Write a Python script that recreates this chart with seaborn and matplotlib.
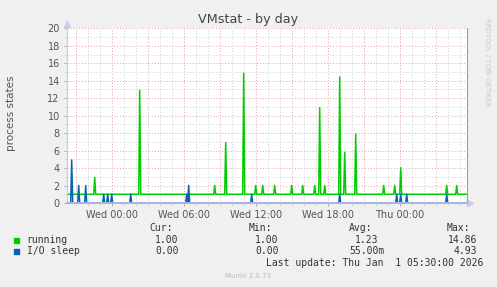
import matplotlib
matplotlib.use("Agg")
import matplotlib.pyplot as plt
import matplotlib.dates as mdates
from matplotlib.ticker import MultipleLocator
import numpy as np
import pandas as pd
import seaborn as sns

# ---------------- data ----------------
series_names = ["running", "I/O sleep"]
series_colors = ["#00CC00", "#0066B3"]

period_start = "2025-12-30 20:15"
period_end = "2026-01-01 05:35"

running_base = 1.0
running_spike_times = [
    "2025-12-30 22:35", "2025-12-31 02:20", "2025-12-31 08:35", "2025-12-31 09:30",
    "2025-12-31 11:00", "2025-12-31 12:00", "2025-12-31 12:35", "2025-12-31 13:35",
    "2025-12-31 15:00", "2025-12-31 15:55", "2025-12-31 16:55", "2025-12-31 17:20",
    "2025-12-31 17:45", "2025-12-31 19:00", "2025-12-31 19:25", "2025-12-31 20:20",
    "2025-12-31 22:40", "2025-12-31 23:35", "2026-01-01 00:05", "2026-01-01 03:55",
    "2026-01-01 04:45",
]
running_spike_values = [
    2.93, 12.9, 2.0, 6.93,
    14.86, 2.0, 2.0, 2.0,
    2.0, 2.0, 2.0, 10.9,
    2.0, 14.44, 5.8, 7.89,
    2.0, 2.0, 4.04, 2.0,
    2.0,
]

iosleep_base = 0.0
iosleep_spike_times = [
    "2025-12-30 20:40", "2025-12-30 21:15", "2025-12-30 21:50", "2025-12-30 23:20",
    "2025-12-30 23:40", "2025-12-31 00:00", "2025-12-31 01:35", "2025-12-31 06:15",
    "2025-12-31 06:25", "2025-12-31 11:40", "2025-12-31 19:00", "2025-12-31 23:45",
    "2026-01-01 00:05", "2026-01-01 00:35", "2026-01-01 03:55",
]
iosleep_spike_values = [
    4.93, 2.0, 2.0, 1.0,
    1.0, 1.0, 1.0, 1.0,
    2.0, 1.0, 1.0, 1.0,
    1.0, 1.0, 1.0,
]

y_ticks = [0, 2, 4, 6, 8, 10, 12, 14, 16, 18, 20]

legend_cur = ["1.00", "0.00"]
legend_min = ["1.00", "0.00"]
legend_avg = ["1.23", "55.00m"]
legend_max = ["14.86", "4.93"]

# ---------------- build table ----------------
times = pd.date_range(period_start, period_end, freq="5min")
running = pd.Series(running_base, index=times)
running.loc[pd.to_datetime(running_spike_times)] = running_spike_values
iosleep = pd.Series(iosleep_base, index=times)
iosleep.loc[pd.to_datetime(iosleep_spike_times)] = iosleep_spike_values

df = pd.concat([
    pd.DataFrame({"time": times, "value": running.values, "series": series_names[0]}),
    pd.DataFrame({"time": times, "value": iosleep.values, "series": series_names[1]}),
], ignore_index=True)

# ---------------- figure ----------------
W, H = 497, 287
BG = "#F0F0F0"
TXT = "#555555"
fig = plt.figure(figsize=(W / 100, H / 100), dpi=100, facecolor=BG)

L, R, T, B = 66.7, 466.7, 28.3, 203.0
ax = fig.add_axes([L / W, 1 - B / H, (R - L) / W, (B - T) / H])
ax.set_facecolor("white")

sns.lineplot(data=df, x="time", y="value", hue="series", hue_order=series_names,
             palette=series_colors, legend=False, ax=ax, linewidth=1.1,
             estimator=None, sort=True)

ax.set_xlim(pd.Timestamp(period_start), pd.Timestamp(period_end))
ax.set_ylim(0, 20)
ax.set_yticks(y_ticks)
ax.yaxis.set_minor_locator(MultipleLocator(1))
ax.xaxis.set_major_locator(mdates.HourLocator(byhour=[0, 6, 12, 18]))
ax.xaxis.set_major_formatter(mdates.DateFormatter("%a %H:%M"))
ax.xaxis.set_minor_locator(mdates.HourLocator())
ax.set_xlabel("")
ax.set_ylabel("")

# grid: red dotted every 3h / 2 units, gray dotted every 1h / 1 unit
for h in pd.date_range("2025-12-30 21:00", "2026-01-01 05:00", freq="3h"):
    ax.axvline(h, color="#e3a3a3", lw=0.7, ls=(0, (1, 2)), zorder=0.5)
for h in pd.date_range("2025-12-30 21:00", "2026-01-01 05:00", freq="1h"):
    if h.hour % 3:
        ax.axvline(h, color="#cfcfcf", lw=0.7, ls=(0, (1, 2)), zorder=0.4)
for v in range(1, 21):
    col = "#e3a3a3" if v % 2 == 0 else "#cfcfcf"
    ax.axhline(v, color=col, lw=0.7, ls=(0, (1, 2)), zorder=0.4 if v % 2 else 0.5)

ax.spines["top"].set_visible(False)
ax.spines["right"].set_color("#a0a0a0")
ax.spines["right"].set_linewidth(0.8)
ax.spines["left"].set_color("#c8cbee")
ax.spines["bottom"].set_color("#a9b4e0")
ax.spines["left"].set_linewidth(0.9)
ax.spines["bottom"].set_linewidth(1.4)
ax.spines["bottom"].set_zorder(5)

ax.tick_params(axis="both", which="major", labelsize=7, colors="#a0a0a0",
               labelcolor=TXT, length=2, width=0.6, direction="out")
ax.tick_params(axis="y", which="major", pad=3)
ax.tick_params(axis="x", which="major", pad=3)
ax.tick_params(axis="both", which="minor", length=1.5, width=0.5, colors="#c0c0c0")

# axis arrows
ax.plot([0], [1.025], marker="^", ms=4, color="#c8cbee", transform=ax.transAxes, clip_on=False)
ax.plot([1.009], [0], marker=">", ms=4, color="#c8cbee", transform=ax.transAxes, clip_on=False)

def ftext(x, y, s, **kw):
    fig.text(x / W, 1 - y / H, s, **kw)

ftext(248.5, 19, "VMstat - by day", ha="center", va="center", fontsize=9.2, color="#444444")
ftext(11, 113, "process states", ha="center", va="center", rotation=90, fontsize=7.5, color=TXT)
ftext(487, 62, "RRDTOOL / TOBI OETIKER", ha="center", va="center", rotation=270,
      fontsize=5, color="#c8c8c8")

mono = dict(family="DejaVu Sans Mono", fontsize=7, color="#333333", va="center")
ftext(149, 228.3, "Cur:", ha="left", **mono)
ftext(248.5, 228.3, "Min:", ha="left", **mono)
ftext(348.5, 228.3, "Avg:", ha="left", **mono)
ftext(447, 228.3, "Max:", ha="left", **mono)

rows_y = [240, 251]
for i, name in enumerate(series_names):
    y = rows_y[i]
    fig.patches.append(plt.Rectangle((14 / W, 1 - (y + 2.5) / H), 5 / W, 5 / H,
                                     transform=fig.transFigure, color=series_colors[i]))
    ftext(26.7, y, name, ha="left", **mono)
    ftext(178.5, y, legend_cur[i], ha="right", **mono)
    ftext(278.5, y, legend_min[i], ha="right", **mono)
    ftext(384.5 if legend_avg[i].endswith("m") else 378.3, y, legend_avg[i], ha="right", **mono)
    ftext(477, y, legend_max[i], ha="right", **mono)

ftext(483, 263.5, "Last update: Thu Jan  1 05:30:00 2026", ha="right", **mono)
ftext(248, 276, "Munin 2.0.73", ha="center", va="center", fontsize=5, color="#bbbbbb")

fig.savefig("out.png", dpi=100, facecolor=BG)
